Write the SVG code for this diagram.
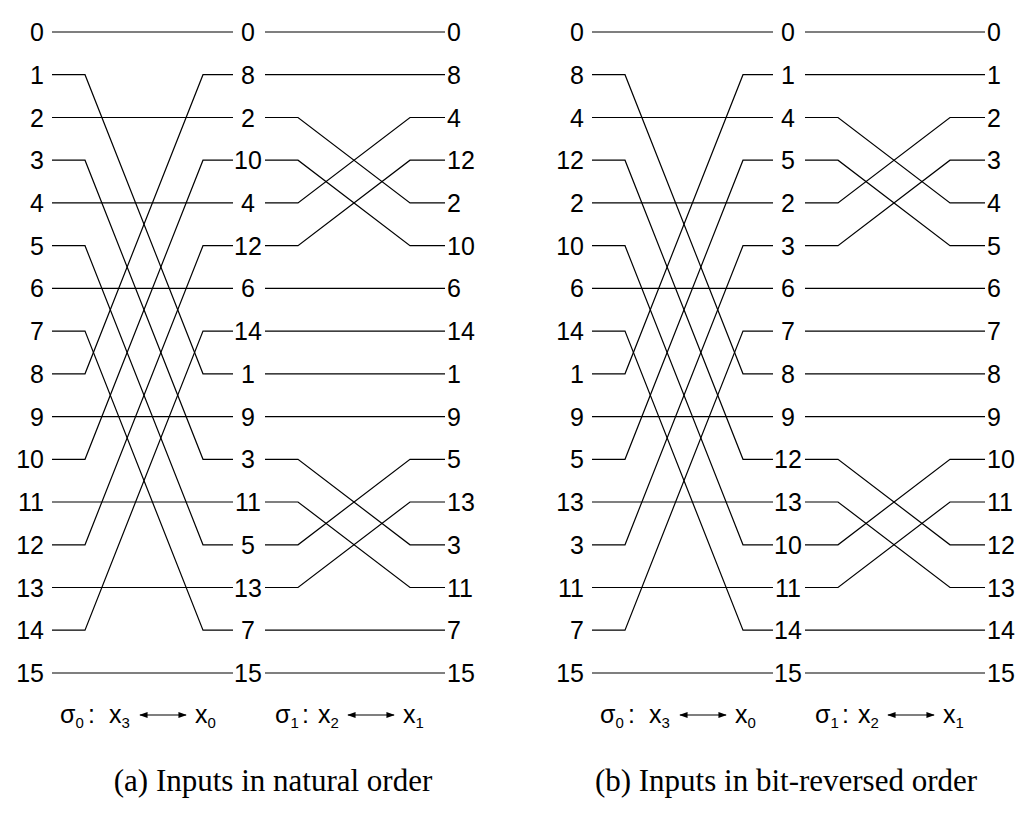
<svg xmlns="http://www.w3.org/2000/svg" xmlns:xlink="http://www.w3.org/1999/xlink" width="1030" height="829" viewBox="0 0 1030 829">
<style>
text{font-family:"Liberation Sans",Arial,sans-serif;font-size:25px;fill:#000}
.l{text-anchor:end}.m{text-anchor:middle}
.cap{font-family:"Liberation Serif","Times New Roman",serif;font-size:31px;text-anchor:middle}
.sub{font-size:15px}
polyline,line{fill:none;stroke:#000;stroke-width:1.2}
</style>
<defs>
<marker id="ah" viewBox="0 0 10 10" refX="9" refY="5" markerWidth="7" markerHeight="7" orient="auto-start-reverse"><path d="M0,1.5L10,5L0,8.5z" fill="#000"/></marker>
<g id="net">
<polyline points="52,32 233,32"/>
<polyline points="52,74.7 85,74.7 203,373.8 233,373.8"/>
<polyline points="52,117.5 233,117.5"/>
<polyline points="52,160.2 85,160.2 203,459.3 233,459.3"/>
<polyline points="52,202.9 233,202.9"/>
<polyline points="52,245.7 85,245.7 203,544.8 233,544.8"/>
<polyline points="52,288.4 233,288.4"/>
<polyline points="52,331.1 85,331.1 203,630.2 233,630.2"/>
<polyline points="52,373.8 85,373.8 203,74.7 233,74.7"/>
<polyline points="52,416.6 233,416.6"/>
<polyline points="52,459.3 85,459.3 203,160.2 233,160.2"/>
<polyline points="52,502 233,502"/>
<polyline points="52,544.8 85,544.8 203,245.7 233,245.7"/>
<polyline points="52,587.5 233,587.5"/>
<polyline points="52,630.2 85,630.2 203,331.1 233,331.1"/>
<polyline points="52,673 233,673"/>
<polyline points="265,32 445,32"/>
<polyline points="265,74.7 445,74.7"/>
<polyline points="265,117.5 298,117.5 410,202.9 445,202.9"/>
<polyline points="265,160.2 298,160.2 410,245.7 445,245.7"/>
<polyline points="265,202.9 298,202.9 410,117.5 445,117.5"/>
<polyline points="265,245.7 298,245.7 410,160.2 445,160.2"/>
<polyline points="265,288.4 445,288.4"/>
<polyline points="265,331.1 445,331.1"/>
<polyline points="265,373.8 445,373.8"/>
<polyline points="265,416.6 445,416.6"/>
<polyline points="265,459.3 298,459.3 410,544.8 445,544.8"/>
<polyline points="265,502 298,502 410,587.5 445,587.5"/>
<polyline points="265,544.8 298,544.8 410,459.3 445,459.3"/>
<polyline points="265,587.5 298,587.5 410,502 445,502"/>
<polyline points="265,630.2 445,630.2"/>
<polyline points="265,673 445,673"/>
</g>
</defs>
<g id="connectors">
<use xlink:href="#net"/>
<use xlink:href="#net" transform="translate(540,0)"/>
<line x1="140" y1="715" x2="186" y2="715" marker-start="url(#ah)" marker-end="url(#ah)"/>
<line x1="348" y1="715" x2="394" y2="715" marker-start="url(#ah)" marker-end="url(#ah)"/>
<line x1="680" y1="715" x2="726" y2="715" marker-start="url(#ah)" marker-end="url(#ah)"/>
<line x1="888" y1="715" x2="934" y2="715" marker-start="url(#ah)" marker-end="url(#ah)"/>
</g>
<g id="panel-a-left" class="l">
<text x="44" y="41">0</text><text x="44" y="83.7">1</text><text x="44" y="126.5">2</text><text x="44" y="169.2">3</text><text x="44" y="211.9">4</text><text x="44" y="254.7">5</text><text x="44" y="297.4">6</text><text x="44" y="340.1">7</text><text x="44" y="382.8">8</text><text x="44" y="425.6">9</text><text x="44" y="468.3">10</text><text x="44" y="511">11</text><text x="44" y="553.8">12</text><text x="44" y="596.5">13</text><text x="44" y="639.2">14</text><text x="44" y="682">15</text>
</g>
<g id="panel-a-mid" class="m">
<text x="248" y="41">0</text><text x="248" y="83.7">8</text><text x="248" y="126.5">2</text><text x="248" y="169.2">10</text><text x="248" y="211.9">4</text><text x="248" y="254.7">12</text><text x="248" y="297.4">6</text><text x="248" y="340.1">14</text><text x="248" y="382.8">1</text><text x="248" y="425.6">9</text><text x="248" y="468.3">3</text><text x="248" y="511">11</text><text x="248" y="553.8">5</text><text x="248" y="596.5">13</text><text x="248" y="639.2">7</text><text x="248" y="682">15</text>
</g>
<g id="panel-a-right">
<text x="447" y="41">0</text><text x="447" y="83.7">8</text><text x="447" y="126.5">4</text><text x="447" y="169.2">12</text><text x="447" y="211.9">2</text><text x="447" y="254.7">10</text><text x="447" y="297.4">6</text><text x="447" y="340.1">14</text><text x="447" y="382.8">1</text><text x="447" y="425.6">9</text><text x="447" y="468.3">5</text><text x="447" y="511">13</text><text x="447" y="553.8">3</text><text x="447" y="596.5">11</text><text x="447" y="639.2">7</text><text x="447" y="682">15</text>
</g>
<g id="panel-b-left" class="l">
<text x="584" y="41">0</text><text x="584" y="83.7">8</text><text x="584" y="126.5">4</text><text x="584" y="169.2">12</text><text x="584" y="211.9">2</text><text x="584" y="254.7">10</text><text x="584" y="297.4">6</text><text x="584" y="340.1">14</text><text x="584" y="382.8">1</text><text x="584" y="425.6">9</text><text x="584" y="468.3">5</text><text x="584" y="511">13</text><text x="584" y="553.8">3</text><text x="584" y="596.5">11</text><text x="584" y="639.2">7</text><text x="584" y="682">15</text>
</g>
<g id="panel-b-mid" class="m">
<text x="788" y="41">0</text><text x="788" y="83.7">1</text><text x="788" y="126.5">4</text><text x="788" y="169.2">5</text><text x="788" y="211.9">2</text><text x="788" y="254.7">3</text><text x="788" y="297.4">6</text><text x="788" y="340.1">7</text><text x="788" y="382.8">8</text><text x="788" y="425.6">9</text><text x="788" y="468.3">12</text><text x="788" y="511">13</text><text x="788" y="553.8">10</text><text x="788" y="596.5">11</text><text x="788" y="639.2">14</text><text x="788" y="682">15</text>
</g>
<g id="panel-b-right">
<text x="987" y="41">0</text><text x="987" y="83.7">1</text><text x="987" y="126.5">2</text><text x="987" y="169.2">3</text><text x="987" y="211.9">4</text><text x="987" y="254.7">5</text><text x="987" y="297.4">6</text><text x="987" y="340.1">7</text><text x="987" y="382.8">8</text><text x="987" y="425.6">9</text><text x="987" y="468.3">10</text><text x="987" y="511">11</text><text x="987" y="553.8">12</text><text x="987" y="596.5">13</text><text x="987" y="639.2">14</text><text x="987" y="682">15</text>
</g>
<g id="labels">
<text x="60" y="723">σ<tspan class="sub" dy="5">0</tspan></text><text x="88" y="723">:</text><text x="109" y="723">x<tspan class="sub" dy="5">3</tspan></text>
<text x="195" y="723">x<tspan class="sub" dy="5">0</tspan></text>
<text x="275" y="723">σ<tspan class="sub" dy="5">1</tspan></text><text x="302" y="723">:</text><text x="318" y="723">x<tspan class="sub" dy="5">2</tspan></text>
<text x="403" y="723">x<tspan class="sub" dy="5">1</tspan></text>
<text x="600" y="723">σ<tspan class="sub" dy="5">0</tspan></text><text x="628" y="723">:</text><text x="649" y="723">x<tspan class="sub" dy="5">3</tspan></text>
<text x="735" y="723">x<tspan class="sub" dy="5">0</tspan></text>
<text x="815" y="723">σ<tspan class="sub" dy="5">1</tspan></text><text x="842" y="723">:</text><text x="858" y="723">x<tspan class="sub" dy="5">2</tspan></text>
<text x="943" y="723">x<tspan class="sub" dy="5">1</tspan></text>
<text class="cap" x="273" y="791">(a) Inputs in natural order</text>
<text class="cap" x="786" y="791">(b) Inputs in bit-reversed order</text>
</g>
</svg>
